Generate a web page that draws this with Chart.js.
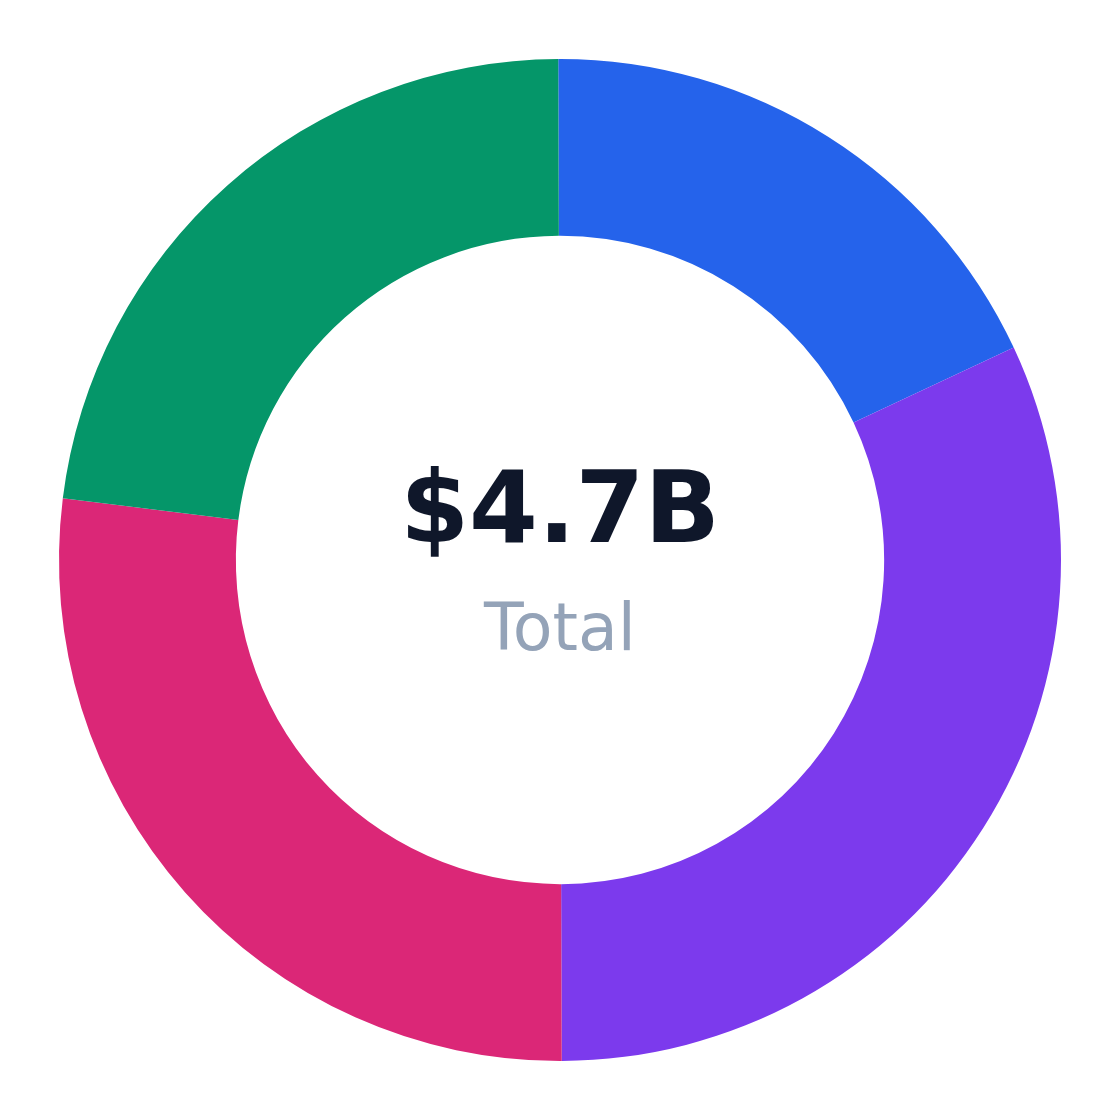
<!DOCTYPE html>
<html>
<head>
<meta charset="utf-8">
<script src="https://cdn.jsdelivr.net/npm/chart.js@4"></script>
<style>
  html, body { margin: 0; padding: 0; background: #fff; }
  #wrap { width: 1120px; height: 1120px; }
</style>
</head>
<body>
<div id="wrap"><canvas id="donut"></canvas></div>
<script>
// segment data (billions)
var labels = ['Segment A', 'Segment B', 'Segment C', 'Segment D'];
var values = [0.85, 1.5, 1.27, 1.08];
var colors = ['#2563EB', '#7C3AED', '#DB2777', '#059669'];
var centerValue = '$4.7B';
var centerLabel = 'Total';

// center text
var centerText = {
  id: 'centerText',
  afterDraw: function (chart) {
    var ctx = chart.ctx;
    var meta = chart.getDatasetMeta(0).data[0];
    var cx = meta.x, cy = meta.y;
    ctx.save();
    ctx.textAlign = 'center';
    ctx.textBaseline = 'alphabetic';
    ctx.fillStyle = '#0F172A';
    ctx.font = 'bold 99px "DejaVu Sans"';
    ctx.fillText(centerValue, cx, cy - 18);
    ctx.fillStyle = '#94A3B8';
    ctx.font = '65px "DejaVu Sans"';
    ctx.fillText(centerLabel, cx, cy + 90);
    ctx.restore();
  }
};

new Chart(document.getElementById('donut'), {
  type: 'doughnut',
  data: {
    labels: labels,
    datasets: [{
      data: values,
      backgroundColor: colors,
      borderWidth: 0
    }]
  },
  options: {
    responsive: true,
    maintainAspectRatio: false,
    animation: false,
    cutout: '64.7%',
    rotation: -0.2,
    layout: { padding: 59 },
    plugins: {
      legend: { display: false },
      tooltip: { enabled: false }
    }
  },
  plugins: [centerText]
});
</script>
</body>
</html>
